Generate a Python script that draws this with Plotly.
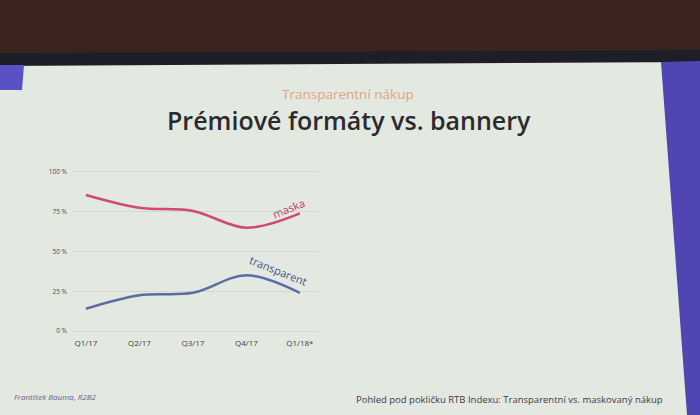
import plotly.graph_objects as go

quarters = ["Q1/17", "Q2/17", "Q3/17", "Q4/17", "Q1/18*"]
maska = [85.5, 77.5, 75.5, 65, 74]
transparent = [14, 22.5, 24, 35, 24]
y_ticks = [0, 25, 50, 75, 100]
y_tick_labels = ["0 %", "25 %", "50 %", "75 %", "100 %"]

W, H = 700, 415
ML, MR, MT, MB = 72, 382, 170, 82
PW, PH = W - ML - MR, H - MT - MB

def px(x):
    return (x - ML) / PW

def py(y):
    return 1 - (y - MT) / PH

def path(points):
    return "M " + " L ".join(f"{px(a):.5f},{py(b):.5f}" for a, b in points) + " Z"

fig = go.Figure()
fig.add_trace(go.Scatter(x=quarters, y=maska, mode="lines", name="maska",
                         line=dict(color="#d2496f", width=2.5, shape="spline", smoothing=1.0),
                         hoverinfo="skip"))
fig.add_trace(go.Scatter(x=quarters, y=transparent, mode="lines", name="transparent",
                         line=dict(color="#5b6ba6", width=2.5, shape="spline", smoothing=1.0),
                         hoverinfo="skip"))

shapes = [
    dict(type="rect", xref="paper", yref="paper", x0=px(0), x1=px(W), y0=py(0), y1=py(56),
         fillcolor="#3b2420", line=dict(width=0), layer="below"),
    dict(type="path", xref="paper", yref="paper", path=path([(0, 53), (W, 50), (W, 62), (0, 66)]),
         fillcolor="#1e1f26", line=dict(width=0), layer="below"),
    dict(type="path", xref="paper", yref="paper",
         path=path([(661, 62), (W, 61), (W, H), (687, H)]),
         fillcolor="#4f46b3", line=dict(width=0), layer="below"),
    dict(type="path", xref="paper", yref="paper",
         path=path([(0, 65), (24, 65), (22, 90), (0, 90)]),
         fillcolor="#5a52c4", line=dict(width=0), layer="below"),
]

annotations = [
    dict(text="Transparentní nákup", xref="paper", yref="paper", x=px(348), y=py(94),
         xanchor="center", yanchor="middle", showarrow=False,
         font=dict(family="Open Sans", size=13.5, color="#e2a57c")),
    dict(text="Prémiové formáty vs. bannery", xref="paper", yref="paper", x=px(349), y=py(120),
         xanchor="center", yanchor="middle", showarrow=False,
         font=dict(family="Open Sans", size=25, color="#2b2a2e", weight=600)),
    dict(text="František Bauma, R2B2", xref="paper", yref="paper", x=px(12), y=py(396),
         xanchor="left", yanchor="middle", showarrow=False,
         font=dict(family="Open Sans", size=8, color="#6a5f86", style="italic")),
    dict(text="Pohled pod pokličku RTB Indexu: Transparentní vs. maskovaný nákup",
         xref="paper", yref="paper", x=px(354), y=py(399), xanchor="left", yanchor="middle",
         showarrow=False, font=dict(family="Open Sans", size=9.5, color="#3d3a4a")),
    dict(text="maska", x=3.78, y=77, xref="x", yref="y", showarrow=False, textangle=-22,
         font=dict(family="Open Sans", size=11, color="#c0426a")),
    dict(text="transparent", x=3.6, y=38, xref="x", yref="y", showarrow=False, textangle=22,
         font=dict(family="Open Sans", size=11, color="#4b5688")),
]

fig.update_layout(
    width=W, height=H,
    margin=dict(l=ML, r=MR, t=MT, b=MB, pad=4),
    paper_bgcolor="#e3e8e1", plot_bgcolor="rgba(0,0,0,0)",
    showlegend=False,
    shapes=shapes, annotations=annotations,
    font=dict(family="Open Sans", color="#444"),
)
fig.update_xaxes(type="category", range=[-0.26, 4.34], showgrid=False, zeroline=False,
                 showline=False, ticks="", tickfont=dict(size=8, color="#3e3e48"))
fig.update_yaxes(range=[-1.25, 101.25], tickmode="array", tickvals=y_ticks,
                 ticktext=y_tick_labels, showgrid=True, gridcolor="#d3d9d1", gridwidth=1,
                 zeroline=False, tickfont=dict(size=6.5, color="#4a4a55"))

fig.write_html("out.html", config={"displayModeBar": False},
               post_script="document.body.style.margin='0';")
